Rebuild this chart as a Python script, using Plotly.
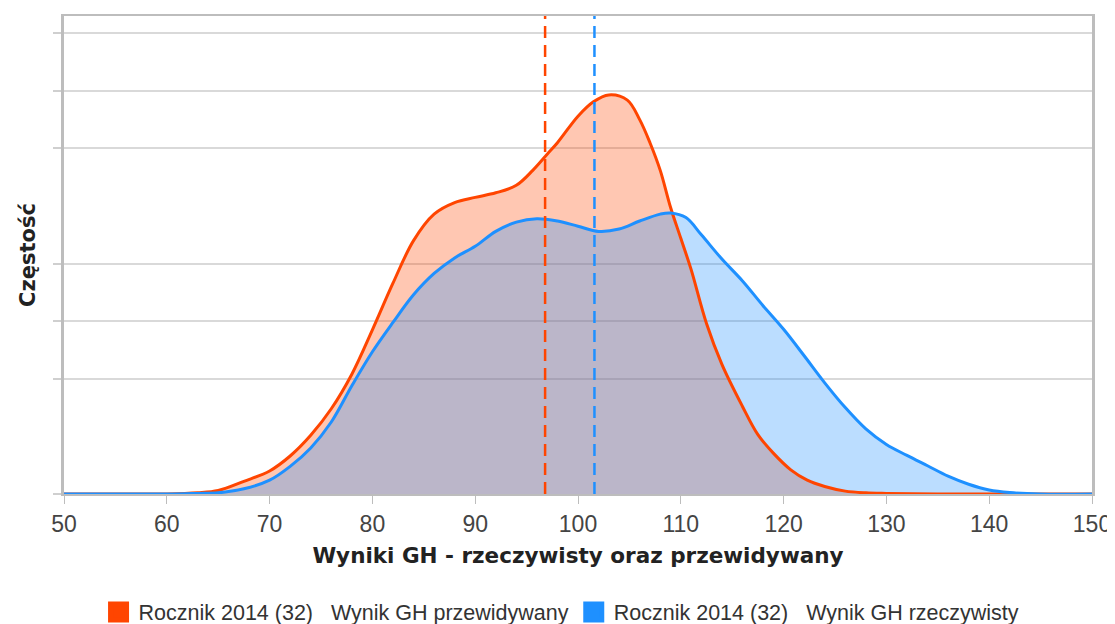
import plotly.graph_objects as go

# ---- data ----
pred_x = [50, 55, 60, 63, 65, 67.5, 70, 72, 74, 76, 78, 80, 82, 84, 86, 88, 90, 92, 94, 95.6, 97, 98,
          100, 101.5, 103, 104.8, 106, 107, 108, 109, 110, 111, 112.5, 114, 116, 117.5, 119, 120.7,
          122.3, 124, 126, 128, 130, 135, 150]
pred_y = [0, 0, 0.0, 0.02, 0.06, 0.22, 0.40, 0.66, 1.02, 1.48, 2.08, 2.85, 3.66, 4.40, 4.86, 5.06, 5.15,
          5.23, 5.36, 5.62, 5.90, 6.10, 6.56, 6.81, 6.93, 6.84, 6.50, 6.10, 5.62, 4.98, 4.44, 3.90,
          2.96, 2.25, 1.52, 1.03, 0.71, 0.42, 0.24, 0.13, 0.05, 0.02, 0.01, 0, 0]

act_x = [50, 60, 63, 65, 67.5, 70, 72, 74, 76, 78, 80, 82, 84, 86, 88, 90, 92, 94, 96, 98, 100, 102,
         104, 106, 108, 109, 110.5, 112, 114, 116, 118, 120, 122, 124, 126, 128, 130, 132, 134,
         136, 138, 140, 142, 145, 150]
act_y = [0, 0.0, 0.01, 0.02, 0.09, 0.24, 0.48, 0.80, 1.25, 1.88, 2.47, 2.98, 3.46, 3.83, 4.10, 4.30,
         4.56, 4.72, 4.78, 4.74, 4.65, 4.56, 4.60, 4.74, 4.86, 4.88, 4.80, 4.50, 4.08, 3.70, 3.27,
         2.86, 2.40, 1.93, 1.50, 1.13, 0.86, 0.67, 0.49, 0.31, 0.17, 0.07, 0.025, 0.0, 0]

means = [96.8, 101.6]

series_names = ["Rocznik 2014 (32)\u00a0\u00a0\u00a0Wynik GH przewidywany",
                "Rocznik 2014 (32)\u00a0\u00a0\u00a0Wynik GH rzeczywisty"]
colors = ["#FF4500", "#1E90FF"]
fills = ["rgba(255,69,0,0.3)", "rgba(30,144,255,0.3)"]

x_ticks = [50, 60, 70, 80, 90, 100, 110, 120, 130, 140, 150]
y_grid = [0, 2, 3, 4, 6, 7, 8]

fig = go.Figure()

# filled areas
for xs, ys, fc in [(pred_x, pred_y, fills[0]), (act_x, act_y, fills[1])]:
    fig.add_trace(go.Scatter(x=xs, y=ys, mode="lines", fill="tozeroy", fillcolor=fc,
                             line=dict(width=0, shape="spline", smoothing=1.0),
                             showlegend=False, hoverinfo="skip"))
# lines on top
for xs, ys, c in [(pred_x, pred_y, colors[0]), (act_x, act_y, colors[1])]:
    fig.add_trace(go.Scatter(x=xs, y=ys, mode="lines",
                             line=dict(width=3, color=c, shape="spline", smoothing=1.0),
                             showlegend=False))

# dashed mean lines
for m, c in zip(means, colors):
    fig.add_shape(type="line", xref="x", yref="paper", x0=m, x1=m, y0=0, y1=1,
                  line=dict(color=c, width=2.5, dash="12px,7px"))

# legend entries (square swatches)
for name, c in zip(series_names, colors):
    fig.add_trace(go.Scatter(x=[None], y=[None], mode="markers", name=name,
                             marker=dict(symbol="square", size=16, color=c,
                                         line=dict(color=c, width=5))))

# page body has an 8px margin, so the figure is 8px smaller than the window
fig.update_layout(
    width=1107, height=616,
    margin=dict(l=56, r=23, t=8, b=130, autoexpand=False),
    paper_bgcolor="white", plot_bgcolor="white",
    font=dict(family="Liberation Sans, Arial, sans-serif", color="#444"),
    legend=dict(orientation="h", x=0.484, xanchor="center", y=-0.247, yanchor="middle",
                font=dict(size=21.5, color="#333"), tracegroupgap=0),
    showlegend=True,
)

fig.update_xaxes(
    range=[50, 150], tickvals=x_ticks, ticktext=[str(v) for v in x_ticks],
    showgrid=False, zeroline=False, automargin=False,
    showline=True, linecolor="#bdbdbd", linewidth=2, mirror=True,
    ticks="outside", ticklen=8, tickcolor="#bdbdbd", tickwidth=1,
    tickfont=dict(size=23, color="#444"),
    title=dict(text="<b>Wyniki GH - rzeczywisty oraz przewidywany</b>",
               font=dict(family="DejaVu Sans, Verdana, sans-serif", size=21.5, color="#222"),
               standoff=12),
)
fig.update_yaxes(
    range=[0, 8.3], tickvals=y_grid, showticklabels=False,
    showgrid=True, gridcolor="#d9d9d9", gridwidth=1.5, zeroline=False, automargin=False,
    showline=True, linecolor="#bdbdbd", linewidth=2.5, mirror=True,
    ticks="outside", ticklen=8, tickcolor="#cfcfcf", tickwidth=1.5,
    title=dict(text="<b>Częstość</b>",
               font=dict(family="DejaVu Sans, Verdana, sans-serif", size=21, color="#222"),
               standoff=12),
)

fig.write_html("out.html")
